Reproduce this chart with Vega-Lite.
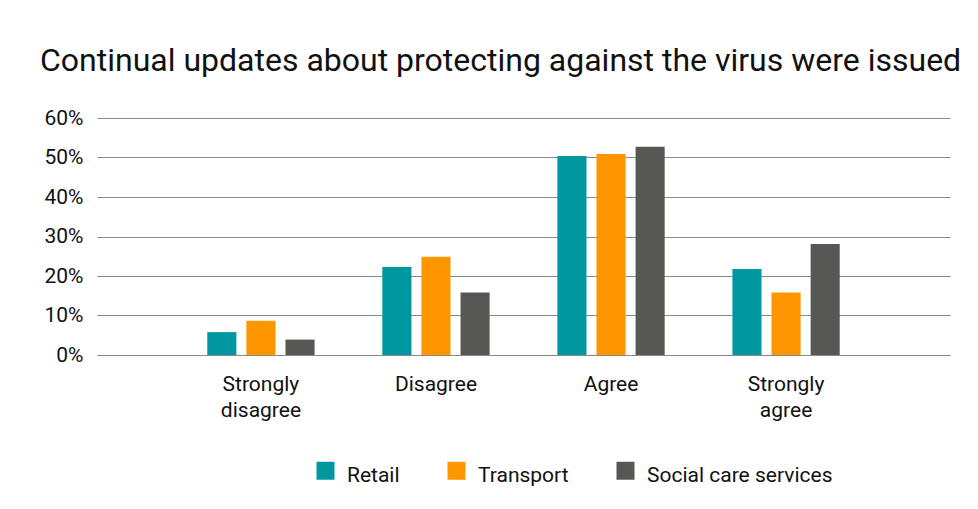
{
  "$schema": "https://vega.github.io/schema/vega-lite/v6.json",
  "width": 853,
  "height": 237,
  "autosize": "none",
  "padding": {"left": 97, "top": 118, "right": 28, "bottom": 154},
  "background": "white",
  "title": {
    "text": "Continual updates about protecting against the virus were issued",
    "anchor": "start",
    "frame": "group",
    "dx": -57,
    "offset": 4,
    "baseline": "alphabetic",
    "font": "Roboto",
    "fontSize": 32,
    "fontWeight": "normal",
    "color": "#111111"
  },
  "data": {
    "values": [
      {"response": "Strongly disagree", "sector": "Retail", "value": 0.058},
      {"response": "Strongly disagree", "sector": "Transport", "value": 0.087},
      {"response": "Strongly disagree", "sector": "Social care services", "value": 0.039},
      {"response": "Disagree", "sector": "Retail", "value": 0.223},
      {"response": "Disagree", "sector": "Transport", "value": 0.249},
      {"response": "Disagree", "sector": "Social care services", "value": 0.158},
      {"response": "Agree", "sector": "Retail", "value": 0.504},
      {"response": "Agree", "sector": "Transport", "value": 0.509},
      {"response": "Agree", "sector": "Social care services", "value": 0.527},
      {"response": "Strongly agree", "sector": "Retail", "value": 0.218},
      {"response": "Strongly agree", "sector": "Transport", "value": 0.158},
      {"response": "Strongly agree", "sector": "Social care services", "value": 0.281}
    ]
  },
  "mark": {"type": "bar"},
  "encoding": {
    "x": {
      "field": "response",
      "type": "nominal",
      "sort": ["Strongly disagree", "Disagree", "Agree", "Strongly agree"],
      "scale": {"paddingInner": 0.387, "paddingOuter": 0.63},
      "axis": {
        "title": null,
        "labelAngle": 0,
        "labelExpr": "split(datum.label, ' ')",
        "labelFont": "Roboto",
        "labelFontSize": 21,
        "labelColor": "#111111",
        "labelLineHeight": 26,
        "labelPadding": 18,
        "labelBaseline": "top",
        "ticks": false,
        "domain": false
      }
    },
    "xOffset": {
      "field": "sector",
      "type": "nominal",
      "sort": ["Retail", "Transport", "Social care services"],
      "scale": {"paddingInner": 0.256, "paddingOuter": 0}
    },
    "y": {
      "field": "value",
      "type": "quantitative",
      "scale": {"domain": [0, 0.6]},
      "axis": {
        "title": null,
        "values": [0, 0.1, 0.2, 0.3, 0.4, 0.5, 0.6],
        "format": ".0%",
        "labelFont": "Roboto",
        "labelFontSize": 21,
        "labelColor": "#111111",
        "labelPadding": 14,
        "ticks": false,
        "domain": false,
        "grid": true,
        "gridColor": "#8a8a8a",
        "gridWidth": 1
      }
    },
    "color": {
      "field": "sector",
      "type": "nominal",
      "sort": ["Retail", "Transport", "Social care services"],
      "scale": {
        "domain": ["Retail", "Transport", "Social care services"],
        "range": ["#0098A0", "#FF9600", "#575756"]
      },
      "legend": {
        "title": null,
        "orient": "none",
        "direction": "horizontal",
        "legendX": 218,
        "legendY": 342,
        "symbolType": "square",
        "symbolSize": 324,
        "symbolStrokeWidth": 0,
        "symbolOpacity": 1,
        "labelFont": "Roboto",
        "labelFontSize": 21,
        "labelColor": "#111111",
        "labelOffset": 11,
        "labelLimit": 400,
        "columnPadding": 46,
        "encode": {"labels": {"update": {"dy": {"value": 5}}}}
      }
    }
  },
  "config": {
    "view": {"stroke": null}
  }
}
